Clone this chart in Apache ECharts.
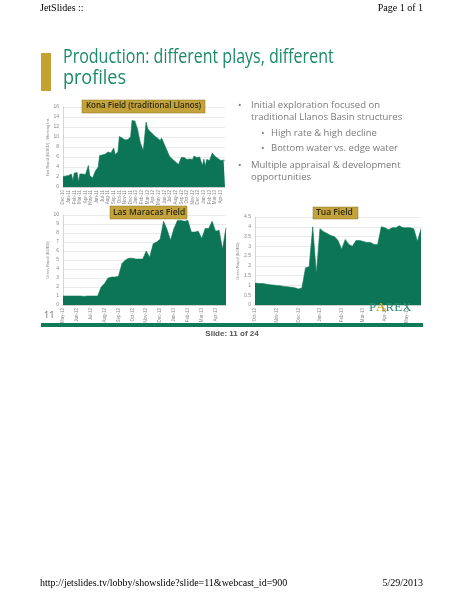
<!DOCTYPE html>
<html><head><meta charset="utf-8">
<script src="https://cdn.jsdelivr.net/npm/echarts@6/dist/echarts.min.js"></script>
<style>html,body{margin:0;padding:0;background:#fff}#c{width:464px;height:600px}</style>
</head><body><div id="c"></div>
<script>
// ---------- DATA ----------
const konaMonths = ['Dec-10','Jan-11','Feb-11','Mar-11','Apr-11','May-11','Jun-11','Jul-11','Aug-11','Sep-11','Oct-11','Nov-11','Dec-11','Jan-12','Feb-12','Mar-12','Apr-12','May-12','Jun-12','Jul-12','Aug-12','Sep-12','Oct-12','Nov-12','Dec-12','Jan-13','Feb-13','Mar-13','Apr-13'];
const konaValues = [
 2.1,2.0,2.2,1.9, 2.3,2.0,2.6,1.2, 2.8,2.5,2.9,1.0, 2.6,2.5,2.6,2.5,
 2.5,2.4,4.3,2.3, 2.0,1.8,1.6,3.2, 3.5,4.0,6.3,6.2, 6.4,6.3,6.6,6.5,
 7.0,7.2,6.8,6.5, 7.8,6.5,6.8,7.0, 10.1,10.0,9.8,9.5, 9.4,9.2,9.5,9.3,
 10.0,13.3,13.3,13.2, 12.8,11.5,10.0,8.8, 8.0,7.3,7.0,13.0, 11.8,11.3,11.0,10.8,
 10.5,10.2,10.0,9.8, 9.5,9.3,9.8,10.1, 8.5,7.8,7.2,6.5, 6.0,5.7,5.5,5.4,
 5.0,4.8,4.5,4.4, 5.9,5.8,5.9,5.7, 5.5,5.4,5.6,5.3, 5.5,6.2,6.0,5.9,
 5.8,6.0,6.3,4.3, 5.6,4.2,5.5,5.4, 5.3,5.5,6.8,6.4, 6.1,5.9,5.7,5.5,
 5.3,5.2,5.4,5.3];
const lasMonths = ['May-12','Jun-12','Jul-12','Aug-12','Sep-12','Oct-12','Nov-12','Dec-12','Jan-13','Feb-13','Mar-13','Apr-13'];
const lasValues = [
 1.0,1.0,1.0,1.0, 1.0,1.0,0.95,1.0, 1.0,1.0,1.0,2.0,
 2.4,3.0,3.1,3.1, 3.2,4.6,5.0,5.2, 5.2,5.1,5.1,5.1,
 6.0,5.3,6.8,7.0, 7.3,9.3,8.4,7.2, 8.5,9.4,9.4,9.3,
 9.4,8.1,8.1,8.2, 7.4,8.5,8.5,9.3, 8.2,8.3,6.2,8.6];
const tuaMonths = ['Oct-12','Nov-12','Dec-12','Jan-13','Feb-13','Mar-13','Apr-13','May-13'];
const tuaValues = [
 1.12,1.1,1.1,1.07,1.04,1.02, 1.0,0.98,0.95,0.93,0.91,0.88,
 0.82,0.87,1.9,1.95,4.0,1.6, 3.9,3.75,3.65,3.55,3.5,3.3,
 2.85,3.35,3.1,3.0,3.3,3.3, 3.25,3.2,3.2,3.1,3.1,4.0,
 3.95,3.85,3.95,3.95,4.05,3.95, 3.95,3.95,3.9,3.25,3.9];
const konaPerMonth = 4, lasPerMonth = 4, tuaPerMonth = 6;

// ---------- BUILD ----------
function cats(months, n, k){ const a=[]; for(let i=0;i<n;i++){ a.push(i%k===0 ? (months[i/k]||'') : ''); } return a; }
const GREEN = '#0b7556';
const chart = echarts.init(document.getElementById('c'), null, {renderer:'canvas'});

function xAx(idx, data){
  return {gridIndex:idx, type:'category', boundaryGap:false, data:data,
    axisLabel:{interval:0, rotate:90, fontSize:4.5, color:'#888', margin:3, fontFamily:'Liberation Sans'},
    axisTick:{show:false}, axisLine:{lineStyle:{color:'#bbb', width:0.6}}};
}
function yAx(idx, max, interval, name){
  return {gridIndex:idx, type:'value', min:0, max:max, interval:interval,
    name:name, nameLocation:'middle', nameGap:12, nameRotate:90,
    nameTextStyle:{fontSize:4, color:'#888', fontFamily:'Liberation Sans'},
    axisLabel:{fontSize:5, color:'#888', margin:4, fontFamily:'Liberation Sans'},
    axisLine:{show:true, lineStyle:{color:'#bbb', width:0.6}}, axisTick:{show:false},
    splitLine:{lineStyle:{color:'#dcdcdc', width:0.6}}};
}
function ser(idx, data){
  return {type:'line', xAxisIndex:idx, yAxisIndex:idx, data:data, symbol:'none',
    lineStyle:{width:0.6, color:GREEN}, areaStyle:{color:GREEN, opacity:1}, animation:false};
}
function txt(x,y,s,style){ return {type:'text', left:x, top:y, style:Object.assign({text:s}, style)}; }

const bulletStyle = {fontSize:9.5, fill:'#7a7a7a', fontFamily:'Open Sans'};
const titleStyle = {fontSize:20, fill:'#1a8a68', fontFamily:'Open Sans'};
const option = {
  animation:false,
  grid:[
    {left:63, top:107, width:162, height:80},
    {left:63, top:215, width:163, height:90},
    {left:255, top:217, width:166, height:88}
  ],
  xAxis:[ xAx(0, cats(konaMonths, konaValues.length, konaPerMonth)),
          xAx(1, cats(lasMonths, lasValues.length, lasPerMonth)),
          xAx(2, cats(tuaMonths, tuaValues.length, tuaPerMonth)) ],
  yAxis:[ yAx(0, 16, 2, 'Net Rapid (BOED) - Working Int.'),
          yAx(1, 10, 1, 'Gross Rapid (BOED)'),
          yAx(2, 4.5, 0.5, 'Gross Rapid (BOED)') ],
  series:[ ser(0, konaValues), ser(1, lasValues), ser(2, tuaValues) ],
  graphic:[
    txt(40, 3, 'JetSlides ::', {fontSize:10, fill:'#000', fontFamily:'Liberation Serif'}),
    {type:'text', right:41, top:3, style:{text:'Page 1 of 1', fontSize:10, fill:'#000', fontFamily:'Liberation Serif'}},
    {type:'rect', shape:{x:41, y:53, width:10, height:38}, style:{fill:'#c4a230'}},
    {type:'text', x:63, y:47, scaleX:0.8, style:Object.assign({text:'Production: different plays, different'}, titleStyle)},
    {type:'text', x:63, y:68, scaleX:0.9, style:Object.assign({text:'profiles'}, titleStyle)},
    // bullets
    txt(238, 100, '•', bulletStyle),
    txt(251, 100, 'Initial exploration focused on', bulletStyle),
    txt(251, 112, 'traditional Llanos Basin structures', bulletStyle),
    txt(261, 128, '•', bulletStyle),
    txt(271, 128, 'High rate & high decline', bulletStyle),
    txt(261, 143, '•', bulletStyle),
    txt(271, 143, 'Bottom water vs. edge water', bulletStyle),
    txt(238, 160, '•', bulletStyle),
    txt(251, 160, 'Multiple appraisal & development', bulletStyle),
    txt(251, 172, 'opportunities', bulletStyle),
    // label boxes
    {type:'rect', shape:{x:82, y:100, width:123, height:13}, style:{fill:'#c4a23c', stroke:'#8a7020', lineWidth:0.5}, z:10},
    {type:'text', left:86, top:102, z:11, style:{text:'Kona Field (traditional Llanos)', fontSize:8, fontWeight:600, fill:'#2b2a12', fontFamily:'Open Sans'}},
    {type:'rect', shape:{x:110, y:206, width:77, height:13}, style:{fill:'#c4a23c', stroke:'#8a7020', lineWidth:0.5}, z:10},
    {type:'text', left:113, top:208, z:11, style:{text:'Las Maracas Field', fontSize:8.5, fontWeight:600, fill:'#2b2a12', fontFamily:'Open Sans'}},
    {type:'rect', shape:{x:313, y:207, width:45, height:12}, style:{fill:'#c4a23c', stroke:'#8a7020', lineWidth:0.5}, z:10},
    {type:'text', left:316, top:208, z:11, style:{text:'Tua Field', fontSize:8.5, fontWeight:600, fill:'#2b2a12', fontFamily:'Open Sans'}},
    // slide number, logo, bar
    txt(44, 311, '11', {fontSize:9, fill:'#666', fontFamily:'Open Sans'}),
    {type:'text', left:369, top:301, z:11, style:{text:'{p|P}{a|A}{p|REX}', rich:{p:{fontSize:13, fill:'#2a8a78', fontFamily:'Liberation Serif'}, a:{fontSize:13, fill:'#c9a227', fontFamily:'Liberation Serif', fontWeight:'bold'}}}},
    {type:'rect', shape:{x:41, y:323, width:382, height:4}, style:{fill:'#0e7a57'}},
    {type:'text', left:'center', top:330, style:{text:'Slide: 11 of 24', fontSize:8, fontWeight:'bold', fill:'#555', fontFamily:'Liberation Sans'}},
    // footer
    txt(40, 578, 'http://jetslides.tv/lobby/showslide?slide=11&webcast_id=900', {fontSize:10, fill:'#000', fontFamily:'Liberation Serif'}),
    {type:'text', right:41, top:578, style:{text:'5/29/2013', fontSize:10, fill:'#000', fontFamily:'Liberation Serif'}}
  ]
};
chart.setOption(option);
</script></body></html>
